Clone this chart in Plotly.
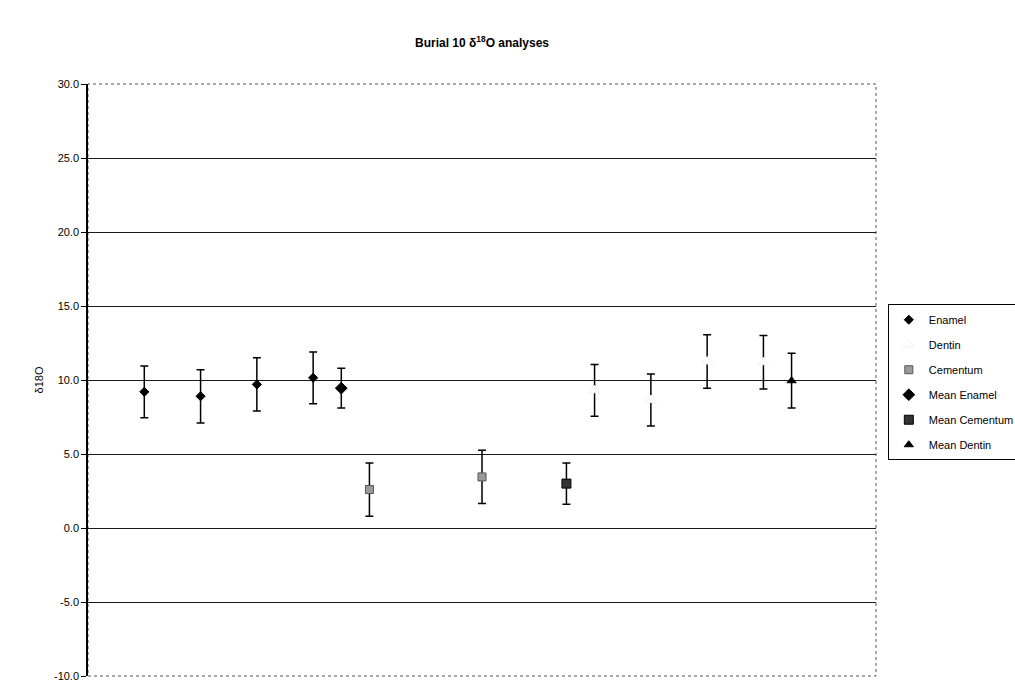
import plotly.graph_objects as go

# ---- data (x = sample position along hidden axis) ----
enamel_x = [1, 2, 3, 4]
enamel_y = [9.2, 8.9, 9.7, 10.15]
enamel_err = [1.75, 1.8, 1.8, 1.75]

dentin_x = [9, 10, 11, 12]
dentin_y = [9.3, 8.65, 11.25, 11.2]
dentin_err = [1.75, 1.75, 1.8, 1.8]

cementum_x = [5, 7]
cementum_y = [2.6, 3.45]
cementum_err = [1.8, 1.8]

mean_enamel_x = [4.5]
mean_enamel_y = [9.45]
mean_enamel_err = [1.35]

mean_cementum_x = [8.5]
mean_cementum_y = [3.0]
mean_cementum_err = [1.4]

mean_dentin_x = [12.5]
mean_dentin_y = [9.95]
mean_dentin_err = [1.85]

y_ticks = [-10, -5, 0, 5, 10, 15, 20, 25, 30]
y_ticktext = ["%.1f" % v for v in y_ticks]

FONT = "Liberation Sans, Arial, sans-serif"


def err(vals):
    return dict(type="data", array=vals, visible=True, color="black",
                thickness=1.5, width=4)


fig = go.Figure()

series = [
    ("Enamel", enamel_x, enamel_y, enamel_err,
     dict(symbol="diamond", size=7, color="black", line=dict(color="black", width=1))),
    ("Dentin", dentin_x, dentin_y, dentin_err,
     dict(symbol="triangle-up", size=10, color="white", line=dict(color="#f2f2f2", width=1))),
    ("Cementum", cementum_x, cementum_y, cementum_err,
     dict(symbol="square", size=8, color="#9a9a9a", line=dict(color="#555555", width=1))),
    ("Mean Enamel", mean_enamel_x, mean_enamel_y, mean_enamel_err,
     dict(symbol="diamond", size=9, color="black", line=dict(color="black", width=1))),
    ("Mean Cementum", mean_cementum_x, mean_cementum_y, mean_cementum_err,
     dict(symbol="square", size=9, color="#333333", line=dict(color="black", width=1))),
    ("Mean Dentin", mean_dentin_x, mean_dentin_y, mean_dentin_err,
     dict(symbol="triangle-up", size=8, color="black", line=dict(color="black", width=1))),
]

for name, xs, ys, es, mk in series:
    fig.add_trace(go.Scatter(
        x=xs, y=ys, mode="markers", name=name, legendgroup=name,
        marker=mk, error_y=err(es), cliponaxis=False,
    ))

# dotted plot-area border
fig.add_shape(type="rect", xref="paper", yref="paper", x0=0, y0=0, x1=1, y1=1,
              line=dict(color="#555555", width=1, dash="dot"), layer="below")

fig.update_layout(
    width=1015, height=681,
    margin=dict(l=88, r=139, t=84, b=5, autoexpand=False),
    paper_bgcolor="white", plot_bgcolor="white",
    font=dict(family=FONT, size=11, color="black"),
    title=dict(text="<b>Burial 10 δ<sup>18</sup>O analyses</b>",
               x=0.4749, xanchor="center", y=0.937, yanchor="middle",
               font=dict(family=FONT, size=12, color="black")),
    showlegend=True,
    legend=dict(x=1.015, xanchor="left", y=0.628, yanchor="top",
                bgcolor="white", bordercolor="black", borderwidth=1,
                font=dict(family=FONT, size=11, color="black"),
                tracegroupgap=6, itemsizing="trace", itemwidth=30),
    xaxis=dict(range=[0, 14], showgrid=False, zeroline=False,
               showticklabels=False, ticks="", showline=False),
    yaxis=dict(range=[-10, 30], tickvals=y_ticks, ticktext=y_ticktext,
               ticklabeloverflow="allow",
               showgrid=True, gridcolor="#1a1a1a", gridwidth=1.2,
               zeroline=False, showline=True, linecolor="black", linewidth=1.5,
               ticks="outside", ticklen=5, tickcolor="black", tickwidth=1,
               title=dict(text="δ18O", font=dict(family=FONT, size=11), standoff=8),
               tickfont=dict(family=FONT, size=11, color="black")),
)

fig.write_html("out.html")
